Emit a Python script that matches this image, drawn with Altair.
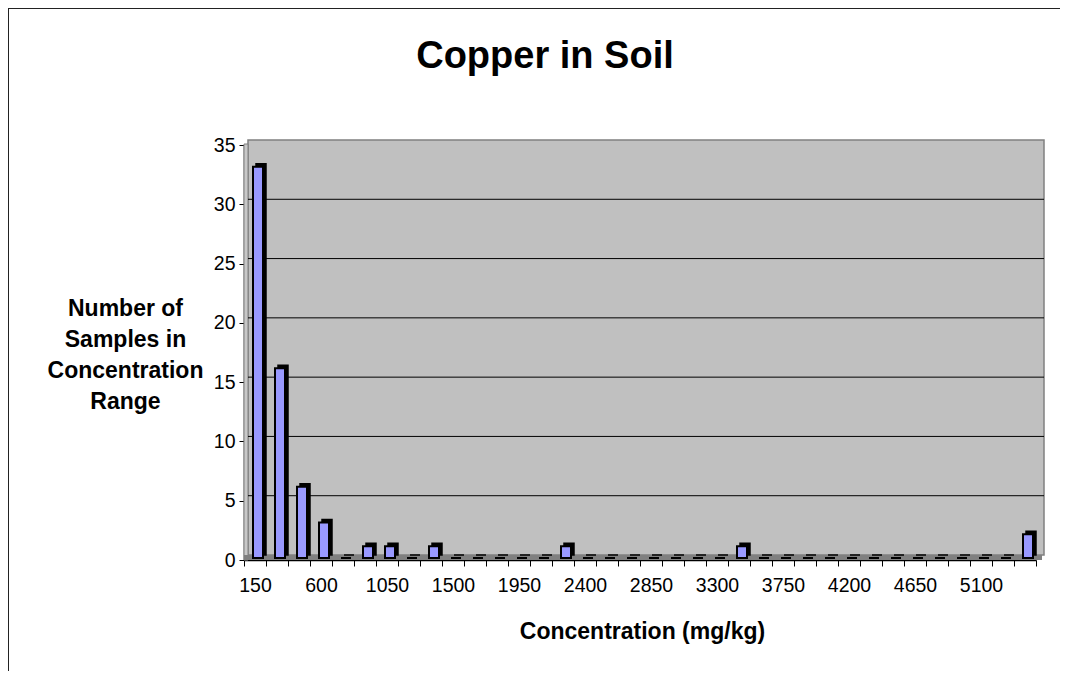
import altair as alt
import pandas as pd

# ---- data ----
bins = [150, 300, 450, 600, 750, 900, 1050, 1200, 1350, 1500, 1650, 1800,
        1950, 2100, 2250, 2400, 2550, 2700, 2850, 3000, 3150, 3300, 3450, 3600,
        3750, 3900, 4050, 4200, 4350, 4500, 4650, 4800, 4950, 5100, 5250, 5400]
counts = [33, 16, 6, 3, 0, 1, 1, 0, 1, 0, 0, 0,
          0, 0, 1, 0, 0, 0, 0, 0, 0, 0, 1, 0,
          0, 0, 0, 0, 0, 0, 0, 0, 0, 0, 0, 2]
y_ticks = [0, 5, 10, 15, 20, 25, 30, 35]
grid_values = [5, 10, 15, 20, 25, 30]
title_text = "Copper in Soil"
x_title = "Concentration (mg/kg)"
y_title = ["Number of", "Samples in", "Concentration", "Range"]

W, H = 792, 415
FONT = "Liberation Sans"

df = pd.DataFrame({"bin": bins, "count": counts})
gdf = pd.DataFrame({"count": grid_values})
one = alt.Data(values=[{}])

xscale = alt.Scale(paddingInner=0, paddingOuter=0)
yscale = alt.Scale(domain=[0, 35], nice=False)

x_axis = alt.Axis(
    title=x_title,
    labelExpr="(datum.value - 150) % 450 == 0 ? datum.label : ''",
    labelAngle=0, labelOverlap=False, tickBand="extent",
    tickSize=6, tickColor="black", tickWidth=1,
    domainColor="black", domainWidth=1.5, grid=False,
    labelColor="black", labelFont=FONT, labelFontSize=19.5, labelPadding=10,
    titleFont=FONT, titleFontSize=23, titleFontWeight="bold", titleColor="black",
    titleX=W / 2 + 2, titleY=78, titleAlign="center", titleBaseline="alphabetic",
)
y_axis = alt.Axis(
    title=y_title, values=y_ticks, grid=False,
    tickSize=5, tickColor="black", tickWidth=1,
    domainColor="black", domainWidth=1.5,
    labelColor="black", labelFont=FONT, labelFontSize=19.5, labelPadding=4,
    titleFont=FONT, titleFontSize=23, titleFontWeight="bold", titleColor="black",
    titleAngle=0, titleAlign="center", titleBaseline="alphabetic",
    titleX=-119, titleY=170, titleLineHeight=31,
)

X = alt.X("bin:O", scale=xscale, axis=x_axis)
Y = alt.Y("count:Q", scale=yscale, axis=y_axis)

# chart frame (top and left edges visible in reference)
border_top = alt.Chart(one).mark_rule(color="#222222", strokeWidth=2).encode(
    x=alt.value(-236), x2=alt.value(W + 24), y=alt.value(-137))
border_left = alt.Chart(one).mark_rule(color="#222222", strokeWidth=2).encode(
    x=alt.value(-236), y=alt.value(-137), y2=alt.value(H + 111))

# 3D-ish walls
back_wall = alt.Chart(one).mark_rect(fill="#C0C0C0", stroke="#808080", strokeWidth=1.5).encode(
    x=alt.value(4), x2=alt.value(W + 8), y=alt.value(-5), y2=alt.value(H - 5))
side_wall = alt.Chart(one).mark_rect(fill="#C8C8C8", stroke="#808080", strokeWidth=1).encode(
    x=alt.value(0), x2=alt.value(4), y=alt.value(-1), y2=alt.value(H))
floor = alt.Chart(one).mark_rect(fill="#808080").encode(
    x=alt.value(0), x2=alt.value(W + 6), y=alt.value(H - 5), y2=alt.value(H))

grid = alt.Chart(gdf).mark_rule(color="black", strokeWidth=1, yOffset=-5).encode(
    y=Y, x=alt.value(4), x2=alt.value(W + 8))

bars_back = alt.Chart(df).mark_bar(size=10, fill="black", stroke="black", strokeWidth=1.5,
                                   xOffset=6, yOffset=-5).encode(x=X, y=Y)
bars_front = alt.Chart(df).mark_bar(size=10, fill="#9999FF", stroke="black", strokeWidth=2,
                                    xOffset=3, yOffset=-2).encode(x=X, y=Y)

chart = alt.layer(
    border_top, border_left, back_wall, side_wall, floor, grid, bars_back, bars_front
).properties(
    width=W, height=H,
    padding={"left": 236, "top": 137, "right": 24, "bottom": 111},
    autosize=alt.AutoSizeParams(type="none"),
    title=alt.TitleParams(title_text, font=FONT, fontSize=38, fontWeight="bold",
                          color="black", anchor="middle", frame="group",
                          baseline="alphabetic", offset=0, dx=-95, dy=99),
).configure_view(stroke="transparent").configure(background="white")

chart.save("out.html", embed_options={"renderer": "svg", "actions": False})
